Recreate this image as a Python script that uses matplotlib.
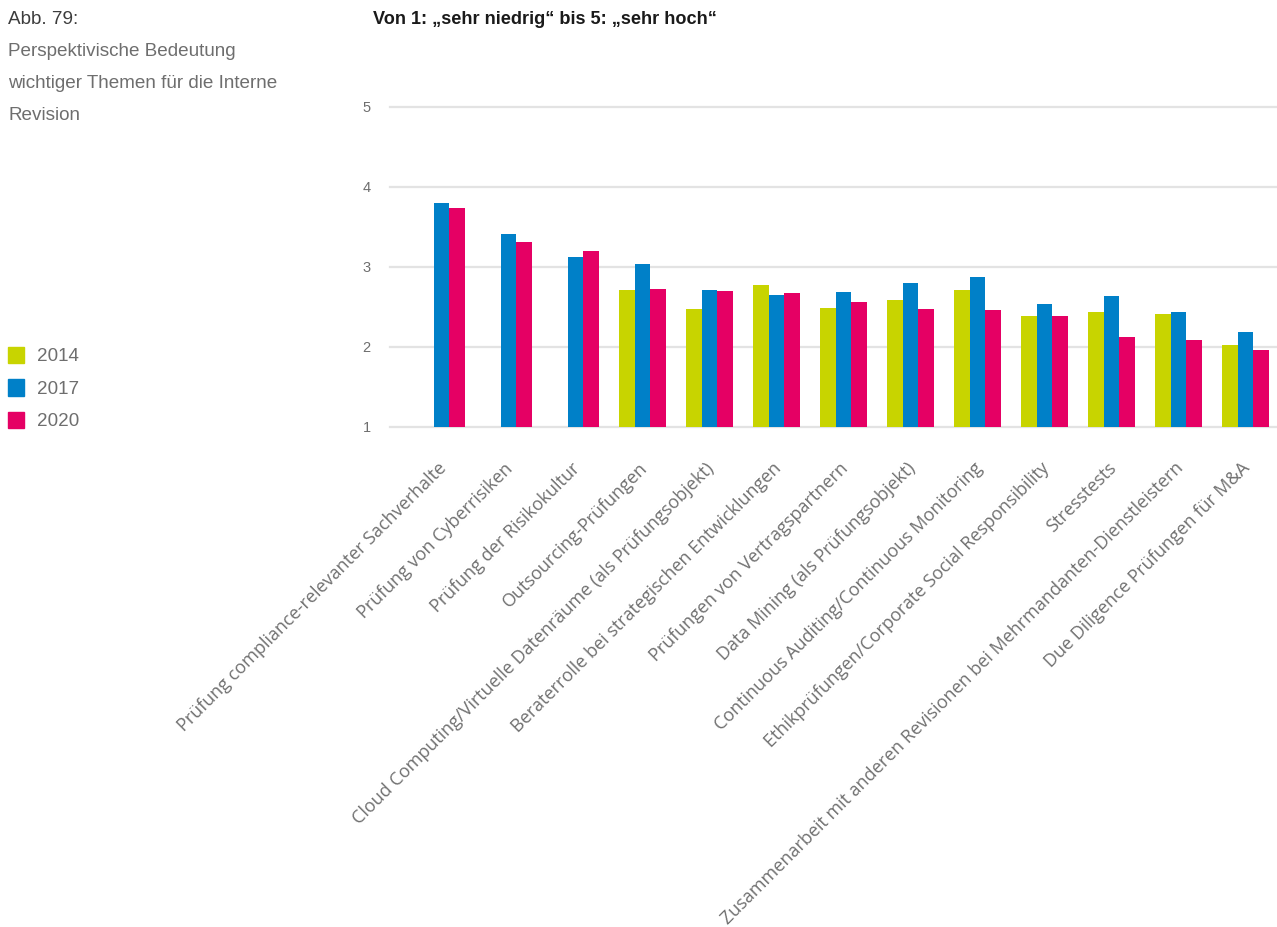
import numpy as np
import matplotlib
matplotlib.use("Agg")
import matplotlib.pyplot as plt
import matplotlib.transforms as mtransforms

# Topics (x axis) and mean ratings per survey year
categories = [
    "Prüfung compliance-relevanter Sachverhalte",
    "Prüfung von Cyberrisiken",
    "Prüfung der Risikokultur",
    "Outsourcing-Prüfungen",
    "Cloud Computing/Virtuelle Datenräume (als Prüfungsobjekt)",
    "Beraterrolle bei strategischen Entwicklungen",
    "Prüfungen von Vertragspartnern",
    "Data Mining (als Prüfungsobjekt)",
    "Continuous Auditing/Continuous Monitoring",
    "Ethikprüfungen/Corporate Social Responsibility",
    "Stresstests",
    "Zusammenarbeit mit anderen Revisionen bei Mehrmandanten-Dienstleistern",
    "Due Diligence Prüfungen für M&A",
]
years = ["2014", "2017", "2020"]
values_2014 = [np.nan, np.nan, np.nan, 2.71, 2.47, 2.77, 2.48, 2.58, 2.71, 2.38, 2.43, 2.41, 2.02]
values_2017 = [3.80, 3.41, 3.12, 3.03, 2.71, 2.65, 2.68, 2.80, 2.87, 2.53, 2.63, 2.43, 2.18]
values_2020 = [3.73, 3.31, 3.20, 2.72, 2.70, 2.67, 2.56, 2.47, 2.46, 2.38, 2.12, 2.08, 1.96]
y_ticks = [1, 2, 3, 4, 5]

colors = ["#C8D400", "#0080C8", "#E50064"]
grey_text = "#6E6E6E"

plt.rcParams["font.family"] = ["Liberation Sans", "DejaVu Sans"]

W, H = 1277, 927
fig = plt.figure(figsize=(W / 100, H / 100), dpi=100)

# axes area in pixel coordinates
left_px, right_px = 390, 1277
top_px, bottom_px = 106.7, 426.7
ax = fig.add_axes([left_px / W, 1 - bottom_px / H,
                   (right_px - left_px) / W, (bottom_px - top_px) / H])

x = np.arange(len(categories))
bw = 0.232
series = [values_2014, values_2017, values_2020]
for i, (vals, c) in enumerate(zip(series, colors)):
    v = np.array(vals, dtype=float)
    ax.bar(x + (i - 1) * bw, v - 1, bottom=1, width=bw, color=c, linewidth=0, zorder=3)

ax.set_ylim(1, 5)
ax.set_xlim(-0.769, 12.47)
ax.set_yticks(y_ticks)
ax.set_yticklabels([str(t) for t in y_ticks])
for t in y_ticks:
    ax.axhline(t, color="#E3E3E3", lw=1.6, zorder=1, clip_on=False)
for s in ax.spines.values():
    s.set_visible(False)
ax.tick_params(axis="y", length=0, pad=14, labelsize=10.5, labelcolor=grey_text)
ax.tick_params(axis="x", length=0)
ax.set_xticks(x)
ax.set_xticklabels([])

# rotated category labels ending under each group
offset = mtransforms.ScaledTranslation(2 / 100, -39 / 100, fig.dpi_scale_trans)
for xi, lab in zip(x, categories):
    ax.text(xi, 1, lab, rotation=45, ha="right", va="center",
            rotation_mode="anchor", fontsize=12.95, color="#707070",
            family=["Open Sans", "DejaVu Sans"],
            transform=ax.transData + offset)

# heading texts
fig.text(8 / W, 1 - 20 / H, "Abb. 79:", fontsize=13.6, color="#3C3C3C", va="center", ha="left")
for k, line in enumerate(["Perspektivische Bedeutung",
                          "wichtiger Themen für die Interne",
                          "Revision"]):
    fig.text(8 / W, 1 - (51 + 32.5 * k) / H, line, fontsize=13.6, color=grey_text,
             va="center", ha="left")
fig.text(373 / W, 1 - 20 / H, "Von 1: „sehr niedrig“ bis 5: „sehr hoch“", fontsize=13.1,
         fontweight="bold", color="#1A1A1A", va="center", ha="left")

# legend
for k, (yr, c) in enumerate(zip(years, colors)):
    yc = 355 + 32.5 * k
    fig.patches.append(plt.Rectangle((8 / W, 1 - (yc + 8) / H), 16 / W, 16 / H,
                                     transform=fig.transFigure, color=c))
    fig.text(37 / W, 1 - (yc + 1.5) / H, yr, fontsize=13.6, color=grey_text,
             va="center", ha="left")

fig.savefig("out.png", dpi=100)
